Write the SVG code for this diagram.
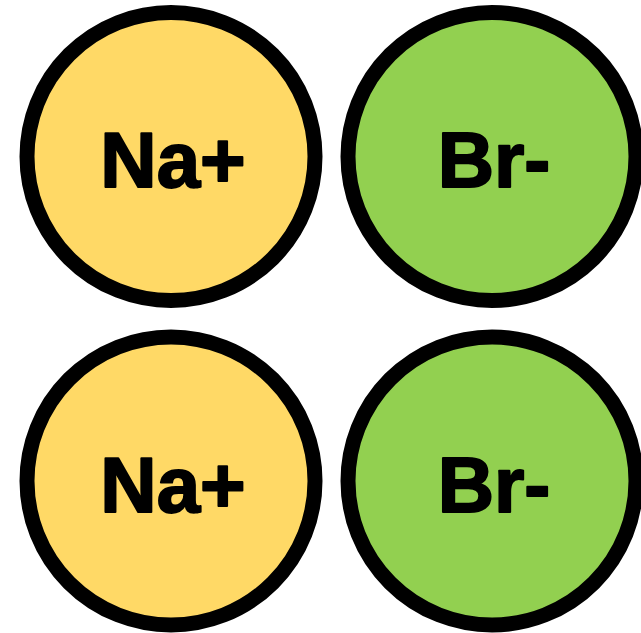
<svg xmlns="http://www.w3.org/2000/svg" width="641" height="633" viewBox="0 0 641 633">
  <style>
    .ion { stroke: #000; stroke-width: 15; }
    .na { fill: #FFD966; }
    .br { fill: #92D050; }
    .label { font-family: "Liberation Sans", Arial, sans-serif; font-weight: bold; font-size: 78px; fill: #000; stroke: #000; stroke-width: 2; stroke-linejoin: round; text-anchor: middle; }
  </style>
  <rect width="641" height="633" fill="#fff"/>
  <g id="na-top">
    <circle class="ion na" cx="171" cy="156.5" r="144"/>
    <text class="label" x="173" y="187">Na+</text>
  </g>
  <g id="br-top">
    <circle class="ion br" cx="492" cy="156.5" r="144"/>
    <text class="label" x="494" y="187">Br-</text>
  </g>
  <g id="na-bottom">
    <circle class="ion na" cx="171" cy="481" r="144"/>
    <text class="label" x="173" y="512">Na+</text>
  </g>
  <g id="br-bottom">
    <circle class="ion br" cx="492" cy="481" r="144"/>
    <text class="label" x="494" y="512">Br-</text>
  </g>
  <g id="connectors"/>
</svg>
